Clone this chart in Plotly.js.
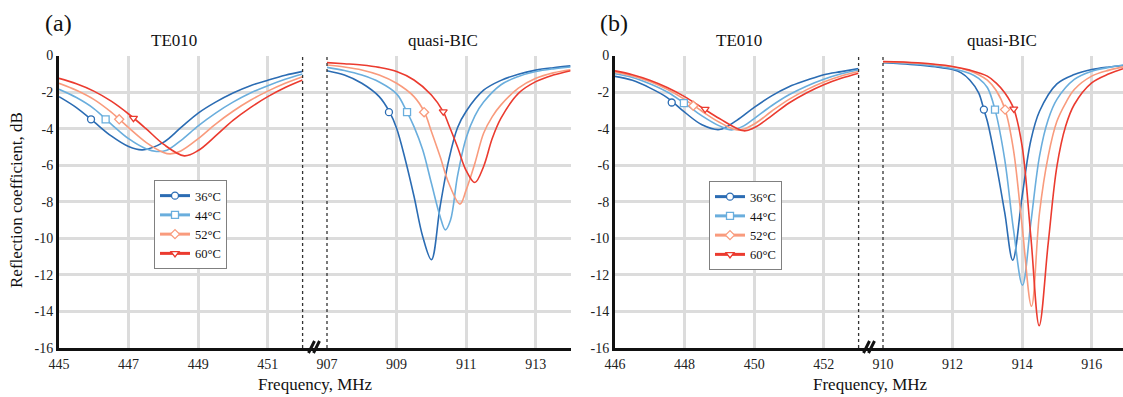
<!DOCTYPE html>
<html>
<head>
<meta charset="utf-8">
<script src="https://cdn.plot.ly/plotly-3.0.1.min.js"></script>
<style>html,body{margin:0;padding:0;background:#fff}#chart{width:1123px;height:397px}</style>
</head>
<body>
<div id="chart"></div>
<script>
// ---------- data ----------
const TEMPS = ['36°C', '44°C', '52°C', '60°C'];
const Y_TICKS = [0, -2, -4, -6, -8, -10, -12, -14, -16];
const Y_TICK_TEXT = ['0', '-2', '-4', '-6', '-8', '-10', '-12', '-14', '-16'];

// Panel (a), TE010 mode
const A_TE_F36 = [445, 445.5, 446, 446.5, 447, 447.4, 448, 448.5, 449, 449.5, 450, 450.5, 451, 451.5, 452];
const A_TE_R36 = [-2.25, -2.85, -3.62, -4.4, -4.98, -5.16, -4.75, -3.95, -3.15, -2.55, -2.05, -1.65, -1.35, -1.08, -0.87];
const A_TE_F44 = [445, 445.5, 446, 446.5, 447, 447.5, 447.8, 448.1, 448.5, 449, 449.5, 450, 450.5, 451, 451.5, 452];
const A_TE_R44 = [-1.85, -2.3, -2.9, -3.75, -4.55, -5.1, -5.25, -5.18, -4.65, -3.85, -3.15, -2.55, -2.05, -1.65, -1.3, -1.01];
const A_TE_F52 = [445, 445.5, 446, 446.5, 447, 447.5, 448, 448.2, 448.5, 449, 449.5, 450, 450.5, 451, 451.5, 452];
const A_TE_R52 = [-1.52, -1.9, -2.4, -3.1, -3.95, -4.75, -5.3, -5.38, -5.22, -4.55, -3.75, -3.05, -2.45, -1.95, -1.52, -1.16];
const A_TE_F60 = [445, 445.5, 446, 446.5, 447, 447.5, 448, 448.6, 449, 449.5, 450, 450.5, 451, 451.5, 452];
const A_TE_R60 = [-1.25, -1.55, -1.95, -2.5, -3.2, -4.0, -4.85, -5.49, -5.2, -4.4, -3.55, -2.85, -2.25, -1.75, -1.34];
const A_TE_MF = [445.92, 446.34, 446.73, 447.14];
const A_TE_MR = [-3.49, -3.49, -3.49, -3.43];

// Panel (a), quasi-BIC mode
const A_Q_F36 = [907, 907.5, 908, 908.5, 908.8, 909, 909.25, 909.5, 909.75, 910, 910.25, 910.5, 910.75, 911, 911.5, 912, 912.5, 913, 913.5, 914];
const A_Q_R36 = [-0.83, -1.07, -1.52, -2.25, -3.1, -3.98, -5.7, -7.7, -9.9, -11.17, -8.26, -5.71, -3.95, -3.05, -1.9, -1.36, -1.02, -0.8, -0.67, -0.57];
const A_Q_F44 = [907, 907.5, 908, 908.5, 909, 909.3, 909.5, 909.75, 910, 910.25, 910.4, 910.55, 910.75, 911, 911.25, 911.5, 912, 912.5, 913, 913.5, 914];
const A_Q_R44 = [-0.65, -0.82, -1.07, -1.45, -2.1, -3.1, -3.89, -5.16, -6.99, -8.8, -9.54, -9.0, -6.6, -4.5, -3.3, -2.55, -1.6, -1.15, -0.88, -0.73, -0.63];
const A_Q_F52 = [907, 907.5, 908, 908.5, 909, 909.5, 909.8, 910, 910.25, 910.5, 910.82, 911, 911.25, 911.5, 911.75, 912, 912.5, 913, 913.5, 914];
const A_Q_R52 = [-0.52, -0.63, -0.79, -1.07, -1.52, -2.25, -3.1, -4.16, -5.53, -6.99, -8.13, -7.35, -5.89, -4.25, -3.34, -2.7, -1.79, -1.25, -0.95, -0.78];
const A_Q_F60 = [907, 907.5, 908, 908.5, 909, 909.5, 910, 910.34, 910.5, 910.75, 911, 911.25, 911.5, 911.75, 912, 912.5, 913, 913.5, 914];
const A_Q_R60 = [-0.39, -0.45, -0.52, -0.65, -0.88, -1.34, -2.16, -3.07, -3.8, -5.0, -6.3, -6.95, -6.07, -4.53, -3.43, -2.07, -1.43, -1.07, -0.83];
const A_Q_MF = [908.78, 909.3, 909.79, 910.34];
const A_Q_MR = [-3.1, -3.1, -3.1, -3.07];

// Panel (b), TE010 mode
const B_TE_F36 = [446, 446.5, 447, 447.5, 448, 448.5, 449, 449.5, 450, 450.5, 451, 451.5, 452, 452.5, 453];
const B_TE_R36 = [-1.14, -1.36, -1.77, -2.3, -3.1, -3.79, -4.05, -3.55, -2.84, -2.21, -1.71, -1.36, -1.05, -0.88, -0.72];
const B_TE_F44 = [446, 446.5, 447, 447.5, 448, 448.5, 449, 449.35, 449.7, 450, 450.5, 451, 451.5, 452, 452.5, 453];
const B_TE_R44 = [-1.0, -1.2, -1.55, -2.0, -2.62, -3.3, -3.85, -4.07, -3.85, -3.45, -2.75, -2.15, -1.68, -1.3, -1.0, -0.78];
const B_TE_F52 = [446, 446.5, 447, 447.5, 448, 448.5, 449, 449.55, 450, 450.5, 451, 451.5, 452, 452.5, 453];
const B_TE_R52 = [-0.91, -1.12, -1.42, -1.85, -2.4, -3.05, -3.65, -4.09, -3.75, -3.05, -2.4, -1.88, -1.45, -1.12, -0.88];
const B_TE_F60 = [446, 446.5, 447, 447.5, 448, 448.5, 449, 449.7, 450, 450.5, 451, 451.5, 452, 452.5, 453];
const B_TE_R60 = [-0.84, -1.05, -1.35, -1.75, -2.25, -2.85, -3.45, -4.12, -3.95, -3.3, -2.6, -2.05, -1.6, -1.25, -0.97];
const B_TE_MF = [447.63, 447.98, 448.25, 448.59];
const B_TE_MR = [-2.57, -2.6, -2.75, -2.93];

// Panel (b), quasi-BIC mode
const B_Q_F36 = [910, 910.5, 911, 911.5, 912, 912.25, 912.5, 912.75, 912.9, 913, 913.25, 913.5, 913.73, 914, 914.25, 914.5, 915, 915.5, 916, 916.5, 916.9];
const B_Q_R36 = [-0.4, -0.45, -0.52, -0.62, -0.77, -0.95, -1.35, -2.04, -2.96, -3.6, -5.9, -8.6, -11.2, -7.7, -4.65, -3.05, -1.55, -1.04, -0.77, -0.63, -0.55];
const B_Q_F44 = [910, 911, 911.5, 912, 912.5, 912.75, 913, 913.22, 913.5, 913.75, 914.01, 914.25, 914.5, 914.75, 915, 915.5, 916, 916.5, 916.9];
const B_Q_R44 = [-0.36, -0.47, -0.57, -0.72, -0.98, -1.25, -1.75, -2.96, -5.69, -9.5, -12.57, -9.16, -5.5, -3.5, -2.4, -1.31, -0.86, -0.65, -0.52];
const B_Q_F52 = [910, 911, 912, 912.5, 912.75, 913, 913.25, 913.51, 913.75, 914, 914.27, 914.5, 914.75, 915, 915.25, 915.5, 916, 916.5, 916.9];
const B_Q_R52 = [-0.35, -0.42, -0.62, -0.85, -1.05, -1.35, -1.9, -2.96, -5.15, -9.34, -13.72, -8.6, -5.5, -3.6, -2.6, -1.86, -1.13, -0.8, -0.62];
const B_Q_F60 = [910, 911, 912, 912.5, 913, 913.25, 913.5, 913.76, 914, 914.25, 914.49, 914.75, 915, 915.25, 915.5, 916, 916.5, 916.9];
const B_Q_R60 = [-0.33, -0.4, -0.6, -0.8, -1.13, -1.5, -2.04, -2.92, -4.96, -9.9, -14.78, -10.26, -6.06, -3.87, -2.68, -1.5, -1.0, -0.72];
const B_Q_MF = [912.9, 913.22, 913.51, 913.76];
const B_Q_MR = [-2.96, -2.96, -2.96, -2.92];

// ---------- styling ----------
const COLORS = ['#2b6cb3', '#6aaedd', '#f99b7d', '#eb3b2f'];
const SYMBOLS = ['circle', 'square', 'diamond', 'triangle-down'];
const FONT = '"Liberation Serif", "Times New Roman", serif';
const W = 1123, H = 397;
const fx = p => p / W;
const fy = p => 1 - p / H;
const GRID = '#dcdcdc';

function curve(f, r, xa, ya, i) {
  return {type: 'scatter', mode: 'lines', x: f, y: r, xaxis: xa, yaxis: ya,
    line: {color: COLORS[i], width: 1.6, shape: 'spline', smoothing: 1},
    showlegend: false, hoverinfo: 'skip'};
}
function marks(mf, mr, xa, ya, legendId, inLegend) {
  return mf.map((v, i) => ({type: 'scatter', mode: inLegend ? 'lines+markers' : 'markers',
    x: [v], y: [mr[i]], xaxis: xa, yaxis: ya, name: TEMPS[i], legend: legendId,
    showlegend: inLegend,
    line: {color: COLORS[i], width: 3},
    marker: {symbol: SYMBOLS[i], size: 7, color: '#ffffff', line: {color: COLORS[i], width: 1.3}},
    hoverinfo: 'skip'}));
}

const traces = [
  // background subplots (full panel width, for grid & baseline)
  {type: 'scatter', x: [], y: [], xaxis: 'x', yaxis: 'y', showlegend: false},
  {type: 'scatter', x: [], y: [], xaxis: 'x4', yaxis: 'y2', showlegend: false},
  curve(A_TE_F36, A_TE_R36, 'x2', 'y', 0), curve(A_TE_F44, A_TE_R44, 'x2', 'y', 1),
  curve(A_TE_F52, A_TE_R52, 'x2', 'y', 2), curve(A_TE_F60, A_TE_R60, 'x2', 'y', 3),
  curve(A_Q_F36, A_Q_R36, 'x3', 'y', 0), curve(A_Q_F44, A_Q_R44, 'x3', 'y', 1),
  curve(A_Q_F52, A_Q_R52, 'x3', 'y', 2), curve(A_Q_F60, A_Q_R60, 'x3', 'y', 3),
  curve(B_TE_F36, B_TE_R36, 'x5', 'y2', 0), curve(B_TE_F44, B_TE_R44, 'x5', 'y2', 1),
  curve(B_TE_F52, B_TE_R52, 'x5', 'y2', 2), curve(B_TE_F60, B_TE_R60, 'x5', 'y2', 3),
  curve(B_Q_F36, B_Q_R36, 'x6', 'y2', 0), curve(B_Q_F44, B_Q_R44, 'x6', 'y2', 1),
  curve(B_Q_F52, B_Q_R52, 'x6', 'y2', 2), curve(B_Q_F60, B_Q_R60, 'x6', 'y2', 3),
  ...marks(A_TE_MF, A_TE_MR, 'x2', 'y', 'legend', true),
  ...marks(A_Q_MF, A_Q_MR, 'x3', 'y', 'legend', false),
  ...marks(B_TE_MF, B_TE_MR, 'x5', 'y2', 'legend2', true),
  ...marks(B_Q_MF, B_Q_MR, 'x6', 'y2', 'legend2', false)
];

const tickFont = {family: FONT, size: 14, color: '#222'};
function segAxis(d0, d1, r0, r1, t0, anchor) {
  return {domain: [fx(d0), fx(d1)], range: [r0, r1], anchor: anchor,
    tickmode: 'linear', tick0: t0, dtick: 2, ticks: '', showline: false, zeroline: false,
    ticklabelstandoff: 6,
    showgrid: true, gridcolor: GRID, gridwidth: 3, tickfont: tickFont, fixedrange: true};
}
function bgAxis(d0, d1, anchor) {
  return {domain: [fx(d0), Math.min(1, fx(d1))], range: [0, 1], anchor: anchor,
    showgrid: false, zeroline: false, showticklabels: false, ticks: '',
    showline: true, linecolor: '#111', linewidth: 3, fixedrange: true};
}
function yAx(anchor) {
  return {domain: [fy(348), fy(55.5)], range: [-16, 0], anchor: anchor,
    tickmode: 'array', tickvals: Y_TICKS, ticktext: Y_TICK_TEXT, ticks: '', zeroline: false,
    showgrid: true, gridcolor: GRID, gridwidth: 3,
    showline: true, linecolor: '#111', linewidth: 3, tickfont: tickFont, fixedrange: true};
}

function dotted(xref, xv, yref) {
  return {type: 'line', xref: xref, yref: yref, x0: xv, x1: xv, y0: 0, y1: 1,
    line: {color: '#333', width: 1.3, dash: 'dot'}};
}
function brk(cx) {
  return [-2.5, 2.5].map(o => ({type: 'line', xref: 'paper', yref: 'paper',
    x0: fx(cx + o - 3), x1: fx(cx + o + 3), y0: fy(353), y1: fy(341),
    line: {color: '#111', width: 3}}));
}
function ann(text, x, y, size, extra) {
  return Object.assign({text: text, xref: 'paper', yref: 'paper', x: fx(x), y: fy(y),
    xanchor: 'center', yanchor: 'middle', showarrow: false,
    font: {family: FONT, size: size, color: '#111'}}, extra || {});
}
function legendBox(x, y) {
  return {x: fx(x), y: fy(y), xanchor: 'left', yanchor: 'top', bgcolor: '#ffffff',
    bordercolor: '#808080', borderwidth: 1, tracegroupgap: 0, itemwidth: 30,
    font: {family: FONT, size: 12.5, color: '#111'}};
}

const layout = {
  width: W, height: H, margin: {l: 0, r: 0, t: 0, b: 0},
  font: {family: FONT, size: 14, color: '#222'},
  paper_bgcolor: '#fff', plot_bgcolor: 'rgba(0,0,0,0)', showlegend: true,
  xaxis: bgAxis(59, 570.6, 'y'),
  xaxis2: segAxis(59, 302.6, 445, 452, 445, 'y'),
  xaxis3: segAxis(327, 570.6, 907, 914, 907, 'y'),
  xaxis4: bgAxis(615, 1123, 'y2'),
  xaxis5: segAxis(615, 858.6, 446, 453, 446, 'y2'),
  xaxis6: segAxis(883, 1123, 910, 916.9, 910, 'y2'),
  yaxis: yAx('x'),
  yaxis2: yAx('x4'),
  legend: legendBox(154, 180),
  legend2: legendBox(709, 181),
  shapes: [
    dotted('x2 domain', 1, 'y domain'), dotted('x3 domain', 0, 'y domain'),
    dotted('x5 domain', 1, 'y2 domain'), dotted('x6 domain', 0, 'y2 domain'),
    ...brk(314), ...brk(869)
  ],
  annotations: [
    ann('(a)', 58, 23, 24), ann('(b)', 614, 23, 24),
    ann('TE010', 174, 40, 17), ann('quasi-BIC', 443, 40, 17),
    ann('TE010', 739, 40, 17), ann('quasi-BIC', 1002, 40, 17),
    ann('Frequency, MHz', 315, 384, 17), ann('Frequency, MHz', 870, 384, 17),
    ann('Reflection coefficient, dB', 16, 200, 17, {textangle: -90})
  ]
};

Plotly.newPlot('chart', traces, layout, {displayModeBar: false, staticPlot: true});
</script>
</body>
</html>
